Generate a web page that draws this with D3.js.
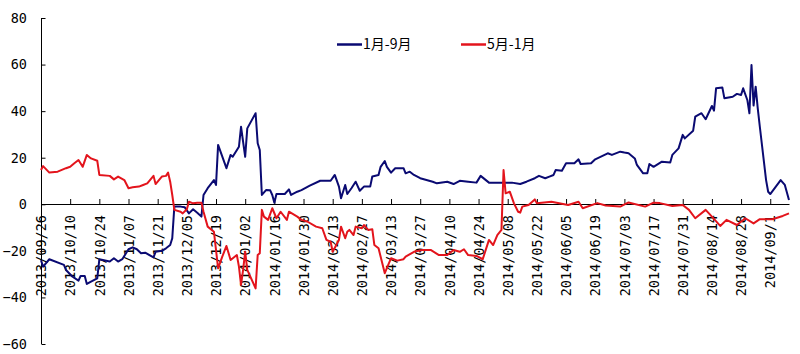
<!DOCTYPE html>
<html>
<head>
<meta charset="utf-8">
<script src="https://cdn.jsdelivr.net/npm/d3@7"></script>
<style>
  body { margin: 0; background: #fff; }
  .axis text { font-family: "DejaVu Sans Mono", monospace; font-size: 13.5px; fill: #000; }
  .legend text { font-family: "Noto Sans CJK SC", sans-serif; font-size: 14px; fill: #000; }
</style>
</head>
<body>
<div id="chart"></div>
<script>
var margin = {top: 18, right: 10, bottom: 10, left: 41},
    width = 749,
    height = 326,
    seriesNames = ["1月-9月", "5月-1月"],
    colors = ["#0a0a72", "#e3141c"];

var yTicks = [-60, -40, -20, 0, 20, 40, 60, 80];

var tickDates = ["2013/09/26", "2013/10/10", "2013/10/24", "2013/11/07", "2013/11/21", "2013/12/05",
    "2013/12/19", "2014/01/02", "2014/01/16", "2014/01/30", "2014/02/13", "2014/02/27", "2014/03/13",
    "2014/03/27", "2014/04/10", "2014/04/24", "2014/05/08", "2014/05/22", "2014/06/05", "2014/06/19",
    "2014/07/03", "2014/07/17", "2014/07/31", "2014/08/14", "2014/08/28", "2014/09/11"];
// the last label is cut short in the original
var tickLabels = tickDates.slice(0, -1).concat(["2014/09/1"]);

// 1月-9月
var dates1 = ["2013/09/26", "2013/09/27", "2013/09/30", "2013/10/07", "2013/10/08", "2013/10/11", "2013/10/14",
    "2013/10/15", "2013/10/17", "2013/10/18", "2013/10/20", "2013/10/23", "2013/10/24", "2013/10/29",
    "2013/10/31", "2013/11/02", "2013/11/04", "2013/11/07", "2013/11/09", "2013/11/11", "2013/11/13",
    "2013/11/15", "2013/11/19", "2013/11/20", "2013/11/23", "2013/11/25", "2013/11/27", "2013/11/28",
    "2013/11/29", "2013/12/02", "2013/12/04", "2013/12/06", "2013/12/08", "2013/12/10", "2013/12/12",
    "2013/12/13", "2013/12/15", "2013/12/18", "2013/12/19", "2013/12/20", "2013/12/24", "2013/12/26",
    "2013/12/27", "2013/12/30", "2013/12/31", "2014/01/02", "2014/01/03", "2014/01/07", "2014/01/08",
    "2014/01/09", "2014/01/10", "2014/01/12", "2014/01/14", "2014/01/15", "2014/01/16", "2014/01/17",
    "2014/01/21", "2014/01/23", "2014/01/24", "2014/01/27", "2014/01/29", "2014/02/02", "2014/02/07",
    "2014/02/12", "2014/02/14", "2014/02/16", "2014/02/17", "2014/02/19", "2014/02/20", "2014/02/22",
    "2014/02/24", "2014/02/26", "2014/02/28", "2014/03/03", "2014/03/04", "2014/03/07", "2014/03/08",
    "2014/03/10", "2014/03/11", "2014/03/13", "2014/03/15", "2014/03/19", "2014/03/20", "2014/03/22",
    "2014/03/24", "2014/03/27", "2014/04/02", "2014/04/04", "2014/04/09", "2014/04/12", "2014/04/15",
    "2014/04/19", "2014/04/23", "2014/04/25", "2014/04/29", "2014/05/05", "2014/05/10", "2014/05/14",
    "2014/05/17", "2014/05/21", "2014/05/23", "2014/05/26", "2014/05/28", "2014/05/30", "2014/05/31",
    "2014/06/03", "2014/06/05", "2014/06/09", "2014/06/11", "2014/06/12", "2014/06/17", "2014/06/19",
    "2014/06/25", "2014/06/27", "2014/07/01", "2014/07/03", "2014/07/05", "2014/07/08", "2014/07/09",
    "2014/07/12", "2014/07/14", "2014/07/15", "2014/07/17", "2014/07/21", "2014/07/25", "2014/07/26",
    "2014/07/29", "2014/07/31", "2014/08/01", "2014/08/05", "2014/08/06", "2014/08/09", "2014/08/11",
    "2014/08/14", "2014/08/15", "2014/08/16", "2014/08/19", "2014/08/20", "2014/08/24", "2014/08/26",
    "2014/08/28", "2014/08/29", "2014/08/31", "2014/09/01", "2014/09/02", "2014/09/03", "2014/09/04",
    "2014/09/05", "2014/09/06", "2014/09/09", "2014/09/10", "2014/09/11", "2014/09/16", "2014/09/18",
    "2014/09/20"];
var values1 = [-24, -26.8, -23.6, -26, -28.2, -31, -32.8,
    -30.8, -30.8, -34.2, -33.2, -31.8, -23.6, -24.6,
    -23.2, -24.6, -23.6, -19.3, -18.5, -19.3, -21,
    -20.8, -22.8, -20.4, -20, -18.9, -17.5, -14.6,
    -1, -1, -1.3, -3.9, -2.1, -3.6, -5.3,
    4, 6.9, 10.4, 8.3, 25.5, 15.5, 21.2,
    20.4, 24.7, 33.3, 20.4, 32.6, 39.1, 26.2,
    23.3, 4, 6.1, 6, 4, 0.7, 4.4,
    4.4, 6.4, 4, 5.4, 6.1, 8, 10.1,
    10.1, 12.6, 7.6, 2.6, 8.3, 4.4, 6.9,
    9.7, 5.8, 7.6, 7.6, 11.9, 12.6, 16.1,
    18.6, 16.1, 13.6, 15.5, 15.5, 13.3, 14,
    12.6, 11.2, 9.7, 9, 9.7, 8.7, 10.1,
    9.7, 9.3, 12.2, 9.3, 9.3, 9.3, 8.7,
    9.7, 11.2, 12.2, 11.2, 11.9, 12.6, 14.7,
    14.4, 17.6, 17.6, 19.3, 17.3, 17.6, 19.3,
    21.9, 21.2, 22.6, 22.2, 21.9, 19.7, 16.9,
    13.3, 13.3, 17.3, 16.1, 18.3, 17.9, 21.2,
    24, 29.8, 28.3, 31.6, 37.6, 39.1, 36.5,
    42.2, 40.2, 49.8, 50.2, 45.5, 46.2, 47.4,
    46.9, 49.8, 44.8, 39.1, 59.8, 42.4, 50.5,
    41.2, 33.3, 10.4, 5.4, 4.4, 10.4, 8.3,
    1.8];

// 5月-1月
var dates2 = ["2013/09/26", "2013/09/27", "2013/09/30", "2013/10/04", "2013/10/08", "2013/10/10", "2013/10/12",
    "2013/10/14", "2013/10/16", "2013/10/18", "2013/10/20", "2013/10/23", "2013/10/24", "2013/10/29",
    "2013/10/31", "2013/11/02", "2013/11/05", "2013/11/07", "2013/11/09", "2013/11/12", "2013/11/14",
    "2013/11/16", "2013/11/19", "2013/11/20", "2013/11/23", "2013/11/25", "2013/11/26", "2013/11/27",
    "2013/11/28", "2013/11/29", "2013/12/02", "2013/12/03", "2013/12/05", "2013/12/06", "2013/12/08",
    "2013/12/10", "2013/12/12", "2013/12/13", "2013/12/15", "2013/12/18", "2013/12/20", "2013/12/22",
    "2013/12/24", "2013/12/26", "2013/12/29", "2013/12/30", "2013/12/31", "2014/01/01", "2014/01/02",
    "2014/01/03", "2014/01/07", "2014/01/08", "2014/01/09", "2014/01/10", "2014/01/11", "2014/01/13",
    "2014/01/15", "2014/01/17", "2014/01/19", "2014/01/22", "2014/01/23", "2014/01/27", "2014/01/29",
    "2014/02/01", "2014/02/05", "2014/02/08", "2014/02/10", "2014/02/12", "2014/02/13", "2014/02/16",
    "2014/02/17", "2014/02/19", "2014/02/20", "2014/02/21", "2014/02/23", "2014/02/24", "2014/02/27",
    "2014/02/28", "2014/03/02", "2014/03/04", "2014/03/05", "2014/03/07", "2014/03/10", "2014/03/12",
    "2014/03/13", "2014/03/16", "2014/03/19", "2014/03/20", "2014/03/24", "2014/03/28", "2014/04/01",
    "2014/04/05", "2014/04/09", "2014/04/12", "2014/04/15", "2014/04/17", "2014/04/19", "2014/04/23",
    "2014/04/26", "2014/04/29", "2014/05/01", "2014/05/03", "2014/05/05", "2014/05/06", "2014/05/07",
    "2014/05/09", "2014/05/11", "2014/05/13", "2014/05/14", "2014/05/15", "2014/05/18", "2014/05/21",
    "2014/05/22", "2014/05/29", "2014/06/06", "2014/06/11", "2014/06/13", "2014/06/20", "2014/06/24",
    "2014/07/01", "2014/07/05", "2014/07/13", "2014/07/17", "2014/07/20", "2014/07/26", "2014/07/31",
    "2014/08/03", "2014/08/06", "2014/08/11", "2014/08/14", "2014/08/18", "2014/08/21", "2014/08/26",
    "2014/08/30", "2014/09/03", "2014/09/06", "2014/09/12", "2014/09/17", "2014/09/20"];
var values2 = [14.7, 16.4, 13.6, 14, 15.5, 16.1, 17.6,
    19, 16.1, 21.2, 19.7, 18.7, 12.6, 12.2,
    10.7, 11.9, 10.4, 6.9, 7.3, 7.6, 8.3,
    9, 12.2, 8.7, 11.9, 12.2, 13.6, 9.7,
    4, -2.4, -3.2, -3.9, -2.1, 1.1, 0.4,
    0.7, 0.7, -3.2, -9.6, -11.8, -27.5, -22.5,
    -17.9, -23.9, -21.8, -26.8, -34.6, -28.2, -20.4,
    -28.2, -36.1, -21.8, -21, -2.4, -5.3, -6.7,
    -1.7, -6, -3.2, -6.7, -3.2, -5.3, -6.7,
    -7.5, -9.6, -10.3, -15.3, -16.1, -20.4, -15.3,
    -9.6, -14.6, -11.8, -11, -13.2, -9.6, -10.3,
    -8.9, -11, -10.7, -17.5, -18.9, -29.6, -25.3,
    -23.2, -24.2, -23.6, -22.5, -20.4, -19.6, -19.6,
    -21.8, -21.8, -19.6, -20.4, -19.3, -21.8, -22.2,
    -23.6, -15.3, -17.5, -13.2, -11, 14.7, 4.7,
    5.4, 0.4, -3.2, -3.6, -1, -0.3, 2.1,
    0.4, 1.1, -0.3, 1.1, -1.7, 0.5, -0.5,
    -1, 0.8, -1, 0.7, 0.5, -0.7, -0.3,
    -2.4, -6, -2.4, -5.3, -9.3, -6.7, -8.9,
    -6, -8.2, -6.4, -6.4, -5, -3.9];

var parseDate = d3.timeParse("%Y/%m/%d");

var svg = d3.select("#chart").append("svg")
    .attr("width", 800)
    .attr("height", 354)
    .append("g")
    .attr("transform", "translate(" + margin.left + "," + margin.top + ")");

var x = d3.scaleTime()
    .domain([parseDate("2013/09/26"), parseDate("2014/09/20")])
    .range([0, width - 1]);

var y = d3.scaleLinear()
    .domain([-60, 80])
    .range([height, 0]);

// y axis: ticks point inward, labels on the left
var yAxis = d3.axisLeft(y)
    .tickValues(yTicks)
    .tickSize(-4)
    .tickPadding(14);

svg.append("g")
    .attr("class", "y axis")
    .call(yAxis)
    .call(g => g.select(".domain").attr("stroke", "#000").attr("d", "M0.5," + height + "V0"))
    .call(g => g.selectAll(".tick line").attr("stroke", "#000").attr("transform", "translate(0.5,0)"));

// x axis sits on the zero line, ticks point up
var xAxis = d3.axisBottom(x)
    .tickValues(tickDates.map(parseDate))
    .tickFormat((d, i) => tickLabels[i])
    .tickSize(-5)
    .tickSizeOuter(0);

svg.append("g")
    .attr("class", "x axis")
    .attr("transform", "translate(0," + Math.round(y(0)) + ")")
    .call(xAxis)
    .call(g => g.select(".domain").attr("stroke", "#000"))
    .call(g => g.selectAll(".tick line").attr("stroke", "#000"))
    .selectAll("text")
    .attr("transform", "rotate(-90)")
    .attr("x", -11)
    .attr("y", 0)
    .attr("dy", "0.35em")
    .style("text-anchor", "end");

var line = d3.line()
    .x(d => x(d.date))
    .y(d => y(d.value));

var series = [
    dates1.map((d, i) => ({date: parseDate(d), value: values1[i]})),
    dates2.map((d, i) => ({date: parseDate(d), value: values2[i]}))
];

svg.selectAll("path.series")
    .data(series)
    .enter().append("path")
    .attr("class", "series")
    .attr("fill", "none")
    .attr("stroke", (d, i) => colors[i])
    .attr("stroke-width", 2)
    .attr("stroke-linejoin", "round")
    .attr("d", line);

// legend
var legend = d3.select("svg").append("g")
    .attr("class", "legend");

var legendX = [337, 461];

seriesNames.forEach((name, i) => {
    legend.append("line")
        .attr("x1", legendX[i])
        .attr("x2", legendX[i] + 25)
        .attr("y1", 44.5)
        .attr("y2", 44.5)
        .attr("stroke", colors[i])
        .attr("stroke-width", 2.5);
    legend.append("text")
        .attr("x", legendX[i] + 26)
        .attr("y", 44.5)
        .attr("dy", "0.35em")
        .text(name);
});
</script>
</body>
</html>
